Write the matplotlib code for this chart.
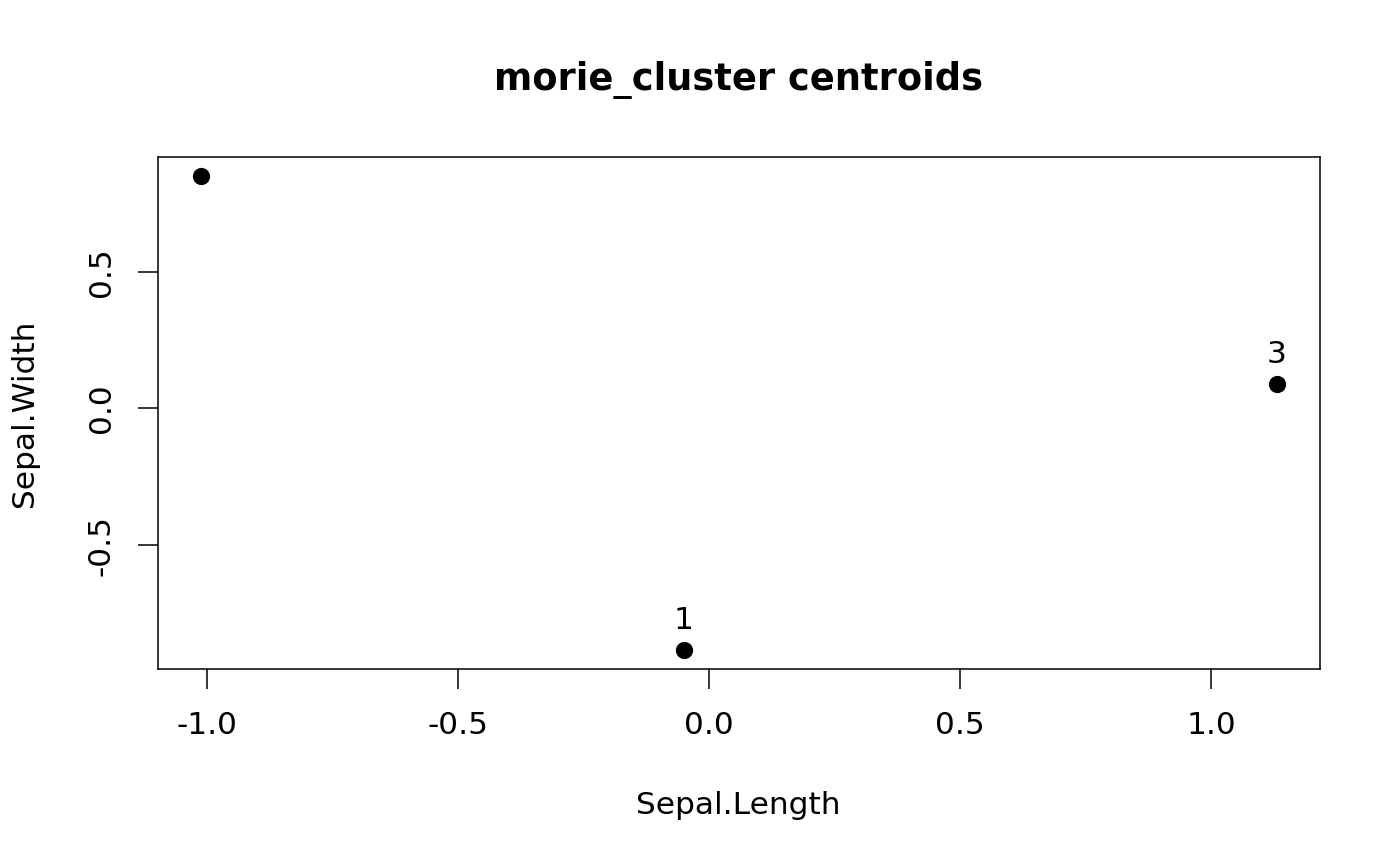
import matplotlib
matplotlib.use("Agg")
import matplotlib.pyplot as plt

# centroides (dados escalados)
cluster_ids = ["1", "2", "3"]
sepal_length = [-0.050, -1.011, 1.131]
sepal_width = [-0.883, 0.850, 0.089]

plt.rcParams['font.family'] = ['DejaVu Sans']
plt.rcParams['axes.unicode_minus'] = False

fig = plt.figure(figsize=(14, 8.66), dpi=100)
ax = fig.add_axes([158/1400, 1-669/866, (1320-158)/1400, (669-157)/866])

ax.scatter(sepal_length, sepal_width, s=130, color="black", zorder=3)

# rotulos acima dos pontos (o 2 fica fora da area e e cortado)
for x, y, lab in zip(sepal_length, sepal_width, cluster_ids):
    t = ax.annotate(lab, (x, y), xytext=(0, 21.5), textcoords="offset points",
                    ha="center", va="center", fontsize=22.5, annotation_clip=False)
    t.set_clip_box(ax.bbox)
    t.set_clip_on(True)

# limites como no R (extensao de 4%)
xr = max(sepal_length) - min(sepal_length)
yr = max(sepal_width) - min(sepal_width)
ax.set_xlim(min(sepal_length) - 0.04*xr, max(sepal_length) + 0.04*xr)
ax.set_ylim(min(sepal_width) - 0.04*yr, max(sepal_width) + 0.04*yr)

ax.set_xticks([-1.0, -0.5, 0.0, 0.5, 1.0])
ax.set_yticks([-0.5, 0.0, 0.5])
ax.tick_params(length=14.4, width=1.1, labelsize=22.5, pad=16)
for lab in ax.get_yticklabels():
    lab.set_rotation(90)
    lab.set_va("center")
for sp in ax.spines.values():
    sp.set_linewidth(1.1)

fig.text(738/1400, 1-80/866, "morie_cluster centroids", ha="center", va="center",
         fontsize=26.5, fontweight="bold")
fig.text(738/1400, 1-805/866, "Sepal.Length", ha="center", va="center", fontsize=22.5)
fig.text(25/1400, 1-413/866, "Sepal.Width", ha="center", va="center", fontsize=22.5,
         rotation=90)

fig.savefig("out.png", dpi=100)
